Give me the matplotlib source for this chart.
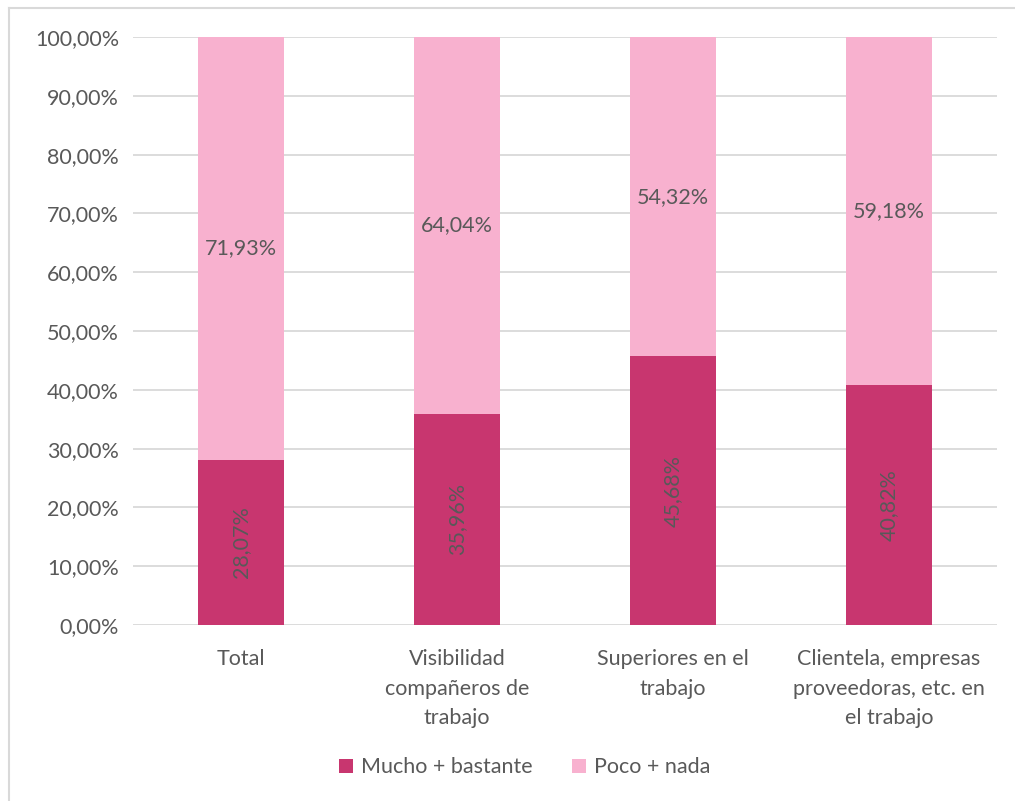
import matplotlib.pyplot as plt
from matplotlib.lines import Line2D
from matplotlib.patches import Patch
from matplotlib.ticker import FuncFormatter

plt.rcParams['font.family'] = ['Lato', 'DejaVu Sans']

categories = ['Total', 'Visibilidad\ncompañeros de\ntrabajo', 'Superiores en el\ntrabajo',
              'Clientela, empresas\nproveedoras, etc. en\nel trabajo']
mucho = [28.07, 35.96, 45.68, 40.82]
poco = [71.93, 64.04, 54.32, 59.18]
yticks = [0, 10, 20, 30, 40, 50, 60, 70, 80, 90, 100]

dark = '#C8366F'
light = '#F8B1CF'
grey = '#595959'
fs = 15.5

def pct(v):
    return f'{v:.2f}'.replace('.', ',') + '%'

fig = plt.figure(figsize=(10.15, 8.01), dpi=100)
ax = fig.add_axes([0.131, 0.2197, 0.851, 0.7341])

x = range(len(categories))
ax.bar(x, mucho, width=0.4, color=dark, edgecolor='none', zorder=3)
ax.bar(x, poco, width=0.4, bottom=mucho, color=light, edgecolor='none', zorder=3)

for i in x:
    ax.text(i, mucho[i] / 2, pct(mucho[i]), rotation=90, ha='center', va='center',
            fontsize=fs, color=grey, zorder=4)
    ax.text(i, mucho[i] + poco[i] / 2, pct(poco[i]), ha='center', va='center',
            fontsize=fs, color=grey, zorder=4)

ax.set_xlim(-0.5, 3.5)
ax.set_ylim(0, 100)
ax.set_yticks(yticks)
ax.yaxis.set_major_formatter(FuncFormatter(lambda v, p: pct(v)))
ax.set_xticks(list(x))
ax.set_xticklabels(categories, fontsize=fs, color=grey, linespacing=1.62)
ax.tick_params(axis='y', labelsize=fs, labelcolor=grey, length=0, pad=10)
ax.tick_params(axis='x', length=0, pad=17)
ax.grid(axis='y', color='#D9D9D9', linewidth=1.3, zorder=0)
for s in ax.spines.values():
    s.set_visible(False)

handles = [Patch(facecolor=dark, label='Mucho + bastante'),
           Patch(facecolor=light, label='Poco + nada')]
fig.legend(handles=handles, loc='center', bbox_to_anchor=(0.517, 0.042), ncol=2,
           frameon=False, fontsize=fs, handlelength=0.65, handleheight=0.65,
           handletextpad=0.4, columnspacing=1.8, labelcolor=grey)

# outer chart frame (only left and top edges fall inside the image)
fig.add_artist(Line2D([9 / 1015, 9 / 1015], [0, 1 - 8 / 801], transform=fig.transFigure,
                      color='#D9D9D9', linewidth=1.5))
fig.add_artist(Line2D([9 / 1015, 1], [1 - 8 / 801, 1 - 8 / 801], transform=fig.transFigure,
                      color='#D9D9D9', linewidth=1.5))

fig.savefig('out.png', dpi=100)
